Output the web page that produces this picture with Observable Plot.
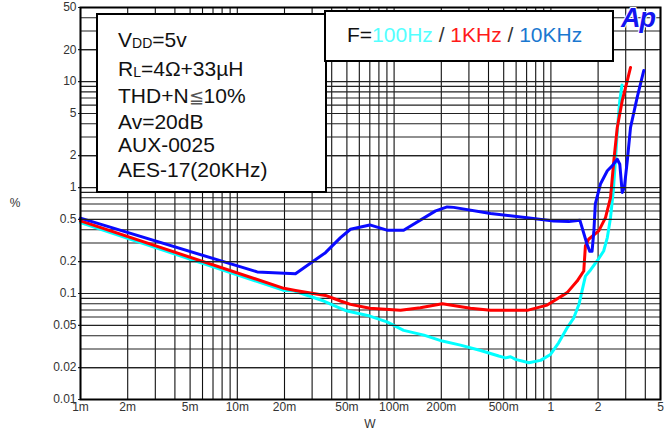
<!DOCTYPE html>
<html><head><meta charset="utf-8">
<script src="https://cdn.jsdelivr.net/npm/d3@7"></script>
<script src="https://cdn.jsdelivr.net/npm/@observablehq/plot@0.6"></script>
<style>
body{margin:0;background:#fff}
#chart{position:relative;width:668px;height:431px}
</style>
</head><body><div id="chart"></div>
<script>
// THD+N (%) vs output power (W)
const thd100Hz = [[0.001,0.467],[0.0198,0.107],[0.0229,0.106],[0.0356,0.085],[0.0455,0.0725],[0.0502,0.0683],[0.070,0.0613],[0.090,0.0541],[0.115,0.0449],[0.155,0.0405],[0.203,0.0356],[0.265,0.0326],[0.356,0.0290],[0.465,0.0257],[0.513,0.0247],[0.553,0.0253],[0.595,0.0239],[0.723,0.0222],[0.859,0.0234],[0.994,0.0266],[1.12,0.0343],[1.27,0.0475],[1.40,0.0590],[1.51,0.0791],[1.58,0.106],[1.66,0.146],[1.79,0.167],[2.02,0.214],[2.17,0.252],[2.29,0.337],[2.40,0.520],[2.50,0.931],[2.58,1.8],[2.66,3.7],[2.75,6.6],[2.84,9.3]];
const thd1KHz = [[0.001,0.484],[0.0198,0.112],[0.0235,0.107],[0.0365,0.096],[0.0455,0.085],[0.0527,0.079],[0.070,0.0725],[0.110,0.0694],[0.147,0.0734],[0.203,0.080],[0.307,0.0725],[0.412,0.0694],[0.706,0.0694],[0.947,0.0778],[1.27,0.102],[1.47,0.131],[1.62,0.163],[1.66,0.281],[1.74,0.325],[2.02,0.390],[2.23,0.520],[2.40,0.804],[2.52,1.79],[2.65,3.69],[2.85,6.60],[3.07,10.2],[3.22,13.6]];
const thd10KHz = [[0.001,0.514],[0.0134,0.160],[0.0235,0.154],[0.0365,0.243],[0.0455,0.337],[0.0527,0.404],[0.070,0.444],[0.090,0.396],[0.115,0.396],[0.184,0.602],[0.218,0.657],[0.240,0.650],[0.412,0.568],[0.706,0.520],[1.04,0.484],[1.30,0.477],[1.53,0.492],[1.70,0.292],[1.77,0.250],[1.83,0.250],[1.88,0.39],[1.92,0.70],[2.07,1.08],[2.29,1.44],[2.46,1.60],[2.65,1.85],[2.75,1.66],[2.85,0.90],[2.94,1.00],[3.07,1.79],[3.22,3.69],[3.55,7.09],[3.91,12.7]];

const xTicks = [0.001,0.002,0.005,0.01,0.02,0.05,0.1,0.2,0.5,1,2,5];
const xTickLabels = ["1m","2m","5m","10m","20m","50m","100m","200m","500m","1","2","5"];
const yTicks = [0.01,0.02,0.05,0.1,0.2,0.5,1,2,5,10,20,50];
const yTickLabels = ["0.01","0.02","0.05","0.1","0.2","0.5","1","2","5","10","20","50"];
const infoLines = ["VDD=5v","RL=4Ω+33µH","THD+N≦10%","Av=20dB","AUX-0025","AES-17(20KHz)"];

// log grid (all 1..9 subdivisions)
const xGrid = [], yGrid = [];
for (let k = -3; k <= 0; k++) for (let m = 1; m <= 9; m++) { const v = +(m * Math.pow(10, k)).toPrecision(6); if (v <= 5) xGrid.push(v); }
for (let k = -2; k <= 1; k++) for (let m = 1; m <= 9; m++) { const v = +(m * Math.pow(10, k)).toPrecision(6); if (v <= 50) yGrid.push(v); }
yGrid.push(50); xGrid.push(5);

const toRows = a => a.map(([w, t]) => ({w, t}));
const xLabelRows = xTicks.map((v, i) => ({v, s: xTickLabels[i]}));
const yLabelRows = yTicks.map((v, i) => ({v, s: yTickLabels[i]}));

const chart = Plot.plot({
  width: 668, height: 431,
  marginTop: 7, marginRight: 8, marginBottom: 32, marginLeft: 80,
  style: {fontFamily: "'Liberation Sans', Arial, sans-serif", fontSize: "12px", color: "#333", background: "white", overflow: "visible"},
  x: {type: "log", domain: [0.001, 5], axis: null},
  y: {type: "log", domain: [0.01, 50], axis: null},
  marks: [
    Plot.ruleX(xGrid, {stroke: "#111", strokeWidth: 1.1}),
    Plot.ruleY(yGrid, {stroke: "#222", strokeWidth: 1.1}),
    Plot.line(toRows(thd100Hz), {x: "w", y: "t", stroke: "#00ffff", strokeWidth: 3}),
    Plot.line(toRows(thd1KHz), {x: "w", y: "t", stroke: "#ff0000", strokeWidth: 3}),
    Plot.line(toRows(thd10KHz), {x: "w", y: "t", stroke: "#0a0aff", strokeWidth: 3}),
    Plot.tickY(yTicks, {y: d => d, frameAnchor: "left", dx: -2, stroke: "#222", strokeWidth: 1.2, inset: 0, x1: null, x2: null}),
    Plot.text(xLabelRows, {x: "v", text: "s", frameAnchor: "bottom", dy: 11, fill: "#333", fontSize: 12}),
    Plot.text(yLabelRows, {y: "v", text: "s", frameAnchor: "left", textAnchor: "end", dx: -4, fill: "#333", fontSize: 12}),
    Plot.frame({stroke: "black", strokeWidth: 2})
  ]
});
document.getElementById("chart").appendChild(chart);

const svg = d3.select(chart);
const F = "'Liberation Sans', Arial, sans-serif";
svg.append("text").attr("x", 15).attr("y", 207).attr("text-anchor", "middle").attr("font-family", F).attr("font-size", 12).attr("fill", "#333").text("%");
svg.append("text").attr("x", 370).attr("y", 428).attr("text-anchor", "middle").attr("font-family", F).attr("font-size", 12).attr("fill", "#333").text("W");

// info box
svg.append("rect").attr("x", 97).attr("y", 14).attr("width", 229).attr("height", 178).attr("fill", "white").attr("stroke", "black").attr("stroke-width", 2);
const baselines = [47, 76, 103, 129, 152, 177];
const g1 = svg.append("g").attr("font-family", F).attr("font-size", 21).attr("fill", "#111").attr("text-anchor", "start");
function sub(t, main, s){ t.append("tspan").text(main); t.append("tspan").attr("font-size", 14).attr("dy", 1).text(s); }
infoLines.forEach((line, i) => {
  const t = g1.append("text").attr("x", 118).attr("y", baselines[i]).attr("text-anchor", "start");
  if (i === 0) { sub(t, "V", "DD"); t.append("tspan").attr("dy", -1).text("=5v"); }
  else if (i === 1) { sub(t, "R", "L"); t.append("tspan").attr("dy", -1).text("=4Ω+33µH"); }
  else if (i === 2) { t.append("tspan").text("THD+N"); t.append("tspan").attr("fill", "#555").attr("font-size", 18).text("≦"); t.append("tspan").text("10%"); }
  else t.text(line);
});

// frequency legend box
svg.append("rect").attr("x", 325).attr("y", 11).attr("width", 288).attr("height", 50).attr("fill", "white").attr("stroke", "black").attr("stroke-width", 2);
const t2 = svg.append("text").attr("x", 347).attr("y", 42).attr("font-family", F).attr("font-size", 21).attr("text-anchor", "start");
[["F=", "#111"], ["100Hz", "#55ffff"], [" / ", "#333"], ["1KHz", "#ff1a1a"], [" / ", "#333"], ["10KHz", "#1a78d0"]].forEach(([s, c]) => t2.append("tspan").attr("fill", c).text(s));

// Ap logo
svg.append("text").attr("x", 621).attr("y", 27).attr("text-anchor", "start").attr("font-family", F).attr("font-size", 27).attr("font-weight", "bold").attr("font-style", "italic").attr("letter-spacing", -1)
  .attr("fill", "#1414f0").attr("stroke", "white").attr("stroke-width", 2).attr("paint-order", "stroke").text("Ap");
</script>
</body></html>
